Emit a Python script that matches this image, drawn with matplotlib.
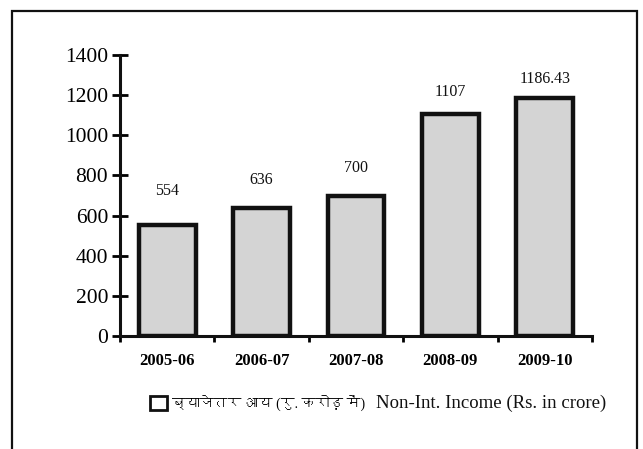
import matplotlib
matplotlib.use("Agg")
import matplotlib.pyplot as plt
from matplotlib import font_manager
from matplotlib.ft2font import FT2Font
from matplotlib.patches import Patch, Rectangle

# ---- data ----
categories = ["2005-06", "2006-07", "2007-08", "2008-09", "2009-10"]
values = [554, 636, 700, 1107, 1186.43]
value_labels = ["554", "636", "700", "1107", "1186.43"]
y_ticks = [0, 200, 400, 600, 800, 1000, 1200, 1400]
legend_label_hi = "ब्याजेतर आय (रु. करोड़ में)"
legend_label_en = "Non-Int. Income (Rs. in crore)"

# find a font with Devanagari glyphs
deva_font = None
for f in font_manager.fontManager.ttflist:
    try:
        cm = FT2Font(f.fname).get_charmap()
        if 0x0915 in cm and 0x094D in cm:
            deva_font = f.name
            break
    except Exception:
        pass

serif = "Liberation Serif"
legend_family = [serif] + ([deva_font] if deva_font else []) + ["DejaVu Sans"]

W, H = 643, 449
fig = plt.figure(figsize=(W / 100, H / 100), dpi=100)
fig.patch.set_facecolor("white")

# outer frame
fig.add_artist(Rectangle((12 / W, -0.05), (637 - 12) / W, 1.05 - 11 / H,
                         transform=fig.transFigure, fill=False,
                         edgecolor="#111111", linewidth=1.6))

ax = fig.add_axes([120 / W, 1 - 336 / H, (592 - 120) / W, (336 - 55) / H])
x = list(range(len(categories)))
bars = ax.bar(x, values, width=0.6, color="#d4d4d4", edgecolor="#111111",
              linewidth=3.2, zorder=3)

label_offsets_pt = [18.5, 14.7, 14, 10, 8]
for xi, v, lab, off in zip(x, values, value_labels, label_offsets_pt):
    ax.annotate(lab, (xi, v), xytext=(0, off), textcoords="offset points",
                ha="center", va="bottom", fontsize=11.5, family=serif,
                color="#111111")

ax.set_xlim(-0.5, len(categories) - 0.5)
ax.set_ylim(0, 1400)
ax.set_yticks(y_ticks)
ax.set_yticklabels([str(t) for t in y_ticks], fontsize=15.5, family=serif)
ax.set_xticks(x)
ax.set_xticklabels(categories, fontsize=12, family=serif, fontweight="bold")
ax.tick_params(axis="x", length=0, pad=12)
ax.set_xticks([i - 0.5 for i in range(len(categories) + 1)], minor=True)
ax.tick_params(axis="x", which="minor", length=4, width=2, direction="out")
ax.tick_params(axis="y", length=11, width=2, direction="inout", pad=3)
for s in ["top", "right"]:
    ax.spines[s].set_visible(False)
for s in ["left", "bottom"]:
    ax.spines[s].set_linewidth(2.2)
    ax.spines[s].set_color("#111111")
ax.spines["bottom"].set_zorder(4)

handle = Patch(facecolor="white", edgecolor="#111111", linewidth=2.0)
leg = fig.legend([handle], [legend_label_hi], loc="center left",
                 bbox_to_anchor=(143 / W, 1 - 403 / H), frameon=False,
                 handlelength=1.2, handleheight=1.2, handletextpad=0.4,
                 borderpad=0, prop={"family": legend_family, "size": 10})
fig.text(376 / W, 1 - 403 / H, legend_label_en, ha="left", va="center",
         fontsize=13.5, family=serif, color="#111111")

fig.savefig("out.png", dpi=100, facecolor="white")
